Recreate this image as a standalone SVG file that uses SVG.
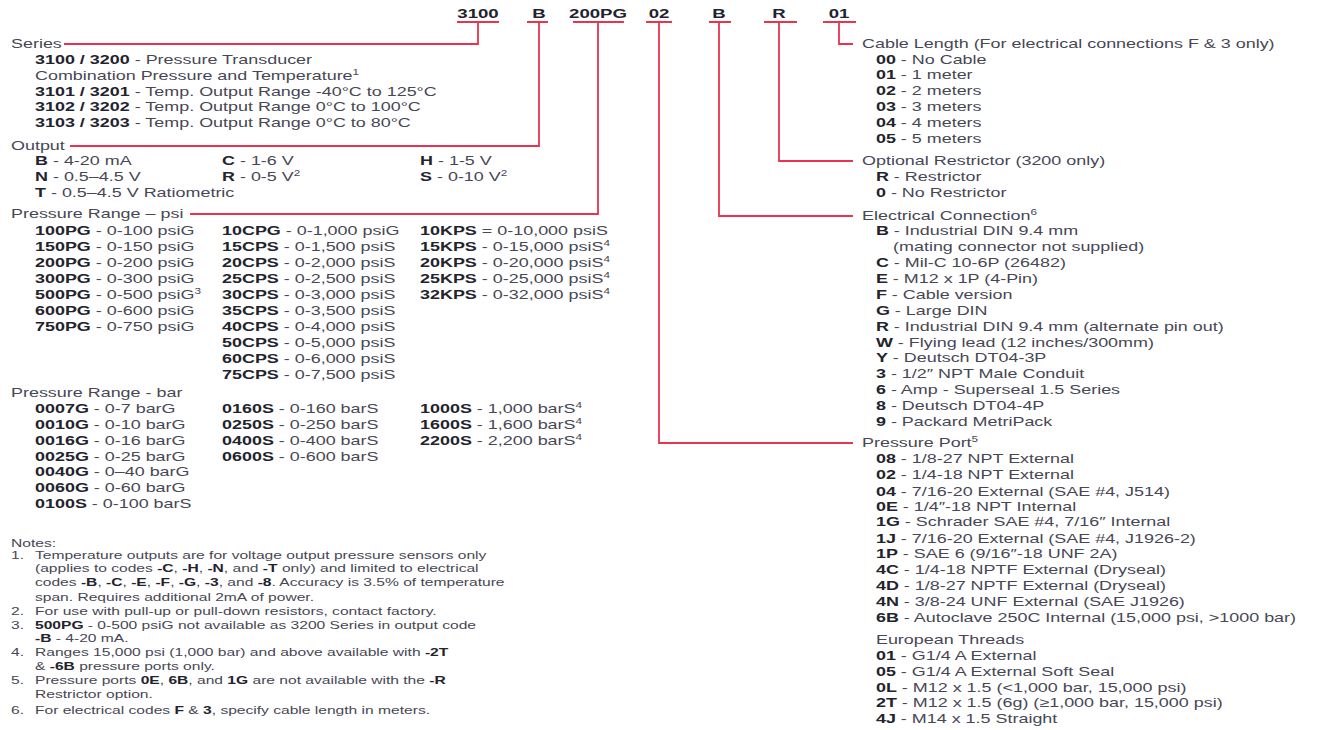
<svg xmlns="http://www.w3.org/2000/svg" width="1317" height="730" viewBox="0 0 1317 730">
<style>
text{font-family:"Liberation Sans",Arial,sans-serif;font-size:13px;fill:#474755}
.b{font-weight:bold;fill:#23232e}
.sup{font-size:8.5px}
.n{font-size:11.3px}
.hd{font-size:13.5px;font-weight:bold;fill:#23232e;text-anchor:middle}
.ln{stroke:#e8344e;stroke-width:1.8;fill:none}
</style>
<rect width="1317" height="730" fill="#ffffff"/>
<g id="connectors">
<path class="ln" d="M457 22H499M478 22V44H64"/>
<path class="ln" d="M527 22H548M539 22V146H70"/>
<path class="ln" d="M573 22H624M598 22V214H190"/>
<path class="ln" d="M646 22H672M659 22V443H853"/>
<path class="ln" d="M709 22H731M719 22V216H853"/>
<path class="ln" d="M764 22H797M779 22V161H853"/>
<path class="ln" d="M823 22H856M839 22V44H853"/>
</g>
<g id="header">
<text class="hd" transform="translate(478 18) scale(1.38 1)">3100</text>
<text class="hd" transform="translate(539 18) scale(1.38 1)">B</text>
<text class="hd" transform="translate(598 18) scale(1.38 1)">200PG</text>
<text class="hd" transform="translate(659 18) scale(1.38 1)">02</text>
<text class="hd" transform="translate(719 18) scale(1.38 1)">B</text>
<text class="hd" transform="translate(779 18) scale(1.38 1)">R</text>
<text class="hd" transform="translate(839 18) scale(1.38 1)">01</text>
</g>
<g id="series" transform="translate(11 0) scale(1.38 1)">
<text x="0" y="48.5">Series</text>
<text x="17.4" y="64.5"><tspan class="b">3100 / 3200</tspan> - Pressure Transducer</text>
<text x="17.4" y="80">Combination Pressure and Temperature<tspan class="sup" dy="-5">1</tspan></text>
<text x="17.4" y="96"><tspan class="b">3101 / 3201</tspan> - Temp. Output Range -40°C to 125°C</text>
<text x="17.4" y="111.5"><tspan class="b">3102 / 3202</tspan> - Temp. Output Range 0°C to 100°C</text>
<text x="17.4" y="127.5"><tspan class="b">3103 / 3203</tspan> - Temp. Output Range 0°C to 80°C</text>
</g>
<g id="output" transform="translate(11 0) scale(1.38 1)">
<text x="0" y="150.5">Output</text>
<text x="17.4" y="165.5"><tspan class="b">B</tspan> - 4-20 mA</text>
<text x="152.9" y="165.5"><tspan class="b">C</tspan> - 1-6 V</text>
<text x="296.4" y="165.5"><tspan class="b">H</tspan> - 1-5 V</text>
<text x="17.4" y="181"><tspan class="b">N</tspan> - 0.5–4.5 V</text>
<text x="152.9" y="181"><tspan class="b">R</tspan> - 0-5 V<tspan class="sup" dy="-5">2</tspan></text>
<text x="296.4" y="181"><tspan class="b">S</tspan> - 0-10 V<tspan class="sup" dy="-5">2</tspan></text>
<text x="17.4" y="197"><tspan class="b">T</tspan> - 0.5–4.5 V Ratiometric</text>
</g>
<g id="pressure-psi" transform="translate(11 0) scale(1.38 1)">
<text x="0" y="218.5">Pressure Range – psi</text>
<text x="17.4" y="235.5"><tspan class="b">100PG</tspan> - 0-100 psiG</text>
<text x="17.4" y="251.5"><tspan class="b">150PG</tspan> - 0-150 psiG</text>
<text x="17.4" y="267.5"><tspan class="b">200PG</tspan> - 0-200 psiG</text>
<text x="17.4" y="283.5"><tspan class="b">300PG</tspan> - 0-300 psiG</text>
<text x="17.4" y="299.5"><tspan class="b">500PG</tspan> - 0-500 psiG<tspan class="sup" dy="-5">3</tspan></text>
<text x="17.4" y="315.5"><tspan class="b">600PG</tspan> - 0-600 psiG</text>
<text x="17.4" y="331.5"><tspan class="b">750PG</tspan> - 0-750 psiG</text>
<text x="152.9" y="235.5"><tspan class="b">10CPG</tspan> - 0-1,000 psiG</text>
<text x="152.9" y="251.5"><tspan class="b">15CPS</tspan> - 0-1,500 psiS</text>
<text x="152.9" y="267.5"><tspan class="b">20CPS</tspan> - 0-2,000 psiS</text>
<text x="152.9" y="283.5"><tspan class="b">25CPS</tspan> - 0-2,500 psiS</text>
<text x="152.9" y="299.5"><tspan class="b">30CPS</tspan> - 0-3,000 psiS</text>
<text x="152.9" y="315.5"><tspan class="b">35CPS</tspan> - 0-3,500 psiS</text>
<text x="152.9" y="331.5"><tspan class="b">40CPS</tspan> - 0-4,000 psiS</text>
<text x="152.9" y="347.5"><tspan class="b">50CPS</tspan> - 0-5,000 psiS</text>
<text x="152.9" y="363"><tspan class="b">60CPS</tspan> - 0-6,000 psiS</text>
<text x="152.9" y="379"><tspan class="b">75CPS</tspan> - 0-7,500 psiS</text>
<text x="296.4" y="235.5"><tspan class="b">10KPS</tspan> = 0-10,000 psiS</text>
<text x="296.4" y="251.5"><tspan class="b">15KPS</tspan> - 0-15,000 psiS<tspan class="sup" dy="-5">4</tspan></text>
<text x="296.4" y="267.5"><tspan class="b">20KPS</tspan> - 0-20,000 psiS<tspan class="sup" dy="-5">4</tspan></text>
<text x="296.4" y="283.5"><tspan class="b">25KPS</tspan> - 0-25,000 psiS<tspan class="sup" dy="-5">4</tspan></text>
<text x="296.4" y="299.5"><tspan class="b">32KPS</tspan> - 0-32,000 psiS<tspan class="sup" dy="-5">4</tspan></text>
</g>
<g id="pressure-bar" transform="translate(11 0) scale(1.38 1)">
<text x="0" y="397.5">Pressure Range - bar</text>
<text x="17.4" y="413.5"><tspan class="b">0007G</tspan> - 0-7 barG</text>
<text x="17.4" y="429"><tspan class="b">0010G</tspan> - 0-10 barG</text>
<text x="17.4" y="445"><tspan class="b">0016G</tspan> - 0-16 barG</text>
<text x="17.4" y="461"><tspan class="b">0025G</tspan> - 0-25 barG</text>
<text x="17.4" y="476.5"><tspan class="b">0040G</tspan> - 0–40 barG</text>
<text x="17.4" y="492.5"><tspan class="b">0060G</tspan> - 0-60 barG</text>
<text x="17.4" y="508.5"><tspan class="b">0100S</tspan> - 0-100 barS</text>
<text x="152.9" y="413.5"><tspan class="b">0160S</tspan> - 0-160 barS</text>
<text x="152.9" y="429"><tspan class="b">0250S</tspan> - 0-250 barS</text>
<text x="152.9" y="445"><tspan class="b">0400S</tspan> - 0-400 barS</text>
<text x="152.9" y="461"><tspan class="b">0600S</tspan> - 0-600 barS</text>
<text x="296.4" y="413.5"><tspan class="b">1000S</tspan> - 1,000 barS<tspan class="sup" dy="-5">4</tspan></text>
<text x="296.4" y="429"><tspan class="b">1600S</tspan> - 1,600 barS<tspan class="sup" dy="-5">4</tspan></text>
<text x="296.4" y="445"><tspan class="b">2200S</tspan> - 2,200 barS<tspan class="sup" dy="-5">4</tspan></text>
</g>
<g id="notes" transform="translate(11 0) scale(1.38 1)">
<text class="n" x="0" y="547">Notes:</text>
<text class="n" x="0" y="559">1.</text>
<text class="n" x="17.4" y="559">Temperature outputs are for voltage output pressure sensors only</text>
<text class="n" x="17.4" y="572">(applies to codes <tspan class="b">-C</tspan>, <tspan class="b">-H</tspan>, <tspan class="b">-N</tspan>, and <tspan class="b">-T</tspan> only) and limited to electrical</text>
<text class="n" x="17.4" y="586">codes <tspan class="b">-B</tspan>, <tspan class="b">-C</tspan>, <tspan class="b">-E</tspan>, <tspan class="b">-F</tspan>, <tspan class="b">-G</tspan>, <tspan class="b">-3</tspan>, and <tspan class="b">-8</tspan>. Accuracy is 3.5% of temperature</text>
<text class="n" x="17.4" y="601">span. Requires additional 2mA of power.</text>
<text class="n" x="0" y="615">2.</text>
<text class="n" x="17.4" y="615">For use with pull-up or pull-down resistors, contact factory.</text>
<text class="n" x="0" y="629">3.</text>
<text class="n" x="17.4" y="629"><tspan class="b">500PG</tspan> - 0-500 psiG not available as 3200 Series in output code</text>
<text class="n" x="17.4" y="642"><tspan class="b">-B</tspan> - 4-20 mA.</text>
<text class="n" x="0" y="656">4.</text>
<text class="n" x="17.4" y="656">Ranges 15,000 psi (1,000 bar) and above available with <tspan class="b">-2T</tspan></text>
<text class="n" x="17.4" y="670">&amp; <tspan class="b">-6B</tspan> pressure ports only.</text>
<text class="n" x="0" y="684">5.</text>
<text class="n" x="17.4" y="684">Pressure ports <tspan class="b">0E</tspan>, <tspan class="b">6B</tspan>, and <tspan class="b">1G</tspan> are not available with the <tspan class="b">-R</tspan></text>
<text class="n" x="17.4" y="698">Restrictor option.</text>
<text class="n" x="0" y="714">6.</text>
<text class="n" x="17.4" y="714">For electrical codes <tspan class="b">F</tspan> &amp; <tspan class="b">3</tspan>, specify cable length in meters.</text>
</g>
<g id="cable-length" transform="translate(862 0) scale(1.38 1)">
<text x="0" y="48.5">Cable Length (For electrical connections F &amp; 3 only)</text>
<text x="10.1" y="64.5"><tspan class="b">00</tspan> - No Cable</text>
<text x="10.1" y="79.5"><tspan class="b">01</tspan> - 1 meter</text>
<text x="10.1" y="95.5"><tspan class="b">02</tspan> - 2 meters</text>
<text x="10.1" y="111.5"><tspan class="b">03</tspan> - 3 meters</text>
<text x="10.1" y="127.5"><tspan class="b">04</tspan> - 4 meters</text>
<text x="10.1" y="143.5"><tspan class="b">05</tspan> - 5 meters</text>
</g>
<g id="restrictor" transform="translate(862 0) scale(1.38 1)">
<text x="0" y="165.5">Optional Restrictor (3200 only)</text>
<text x="10.1" y="181.5"><tspan class="b">R</tspan> - Restrictor</text>
<text x="10.1" y="197.5"><tspan class="b">0</tspan> - No Restrictor</text>
</g>
<g id="electrical" transform="translate(862 0) scale(1.38 1)">
<text x="0" y="220.5">Electrical Connection<tspan class="sup" dy="-5">6</tspan></text>
<text x="10.1" y="235.5"><tspan class="b">B</tspan> - Industrial DIN 9.4 mm</text>
<text x="22.5" y="251.5">(mating connector not supplied)</text>
<text x="10.1" y="267.5"><tspan class="b">C</tspan> - Mil-C 10-6P (26482)</text>
<text x="10.1" y="283.5"><tspan class="b">E</tspan> - M12 x 1P (4-Pin)</text>
<text x="10.1" y="299.5"><tspan class="b">F</tspan> - Cable version</text>
<text x="10.1" y="315.5"><tspan class="b">G</tspan> - Large DIN</text>
<text x="10.1" y="331.5"><tspan class="b">R</tspan> - Industrial DIN 9.4 mm (alternate pin out)</text>
<text x="10.1" y="347.5"><tspan class="b">W</tspan> - Flying lead (12 inches/300mm)</text>
<text x="10.1" y="362.5"><tspan class="b">Y</tspan> - Deutsch DT04-3P</text>
<text x="10.1" y="378.5"><tspan class="b">3</tspan> - 1/2″ NPT Male Conduit</text>
<text x="10.1" y="394.5"><tspan class="b">6</tspan> - Amp - Superseal 1.5 Series</text>
<text x="10.1" y="410.5"><tspan class="b">8</tspan> - Deutsch DT04-4P</text>
<text x="10.1" y="426.5"><tspan class="b">9</tspan> - Packard MetriPack</text>
</g>
<g id="pressure-port" transform="translate(862 0) scale(1.38 1)">
<text x="0" y="447.5">Pressure Port<tspan class="sup" dy="-5">5</tspan></text>
<text x="10.1" y="463.5"><tspan class="b">08</tspan> - 1/8-27 NPT External</text>
<text x="10.1" y="479.5"><tspan class="b">02</tspan> - 1/4-18 NPT External</text>
<text x="10.1" y="496.5"><tspan class="b">04</tspan> - 7/16-20 External (SAE #4, J514)</text>
<text x="10.1" y="511.5"><tspan class="b">0E</tspan> - 1/4″-18 NPT Internal</text>
<text x="10.1" y="526.5"><tspan class="b">1G</tspan> - Schrader SAE #4, 7/16″ Internal</text>
<text x="10.1" y="543.5"><tspan class="b">1J</tspan> - 7/16-20 External (SAE #4, J1926-2)</text>
<text x="10.1" y="558.5"><tspan class="b">1P</tspan> - SAE 6 (9/16″-18 UNF 2A)</text>
<text x="10.1" y="574.5"><tspan class="b">4C</tspan> - 1/4-18 NPTF External (Dryseal)</text>
<text x="10.1" y="590.5"><tspan class="b">4D</tspan> - 1/8-27 NPTF External (Dryseal)</text>
<text x="10.1" y="606.5"><tspan class="b">4N</tspan> - 3/8-24 UNF External (SAE J1926)</text>
<text x="10.1" y="622.5"><tspan class="b">6B</tspan> - Autoclave 250C Internal (15,000 psi, &gt;1000 bar)</text>
<text x="10.1" y="644.5">European Threads</text>
<text x="10.1" y="660.5"><tspan class="b">01</tspan> - G1/4 A External</text>
<text x="10.1" y="676.5"><tspan class="b">05</tspan> - G1/4 A External Soft Seal</text>
<text x="10.1" y="692.5"><tspan class="b">0L</tspan> - M12 x 1.5 (&lt;1,000 bar, 15,000 psi)</text>
<text x="10.1" y="707.5"><tspan class="b">2T</tspan> - M12 x 1.5 (6g) (≥1,000 bar, 15,000 psi)</text>
<text x="10.1" y="723.5"><tspan class="b">4J</tspan> - M14 x 1.5 Straight</text>
</g>
</svg>
